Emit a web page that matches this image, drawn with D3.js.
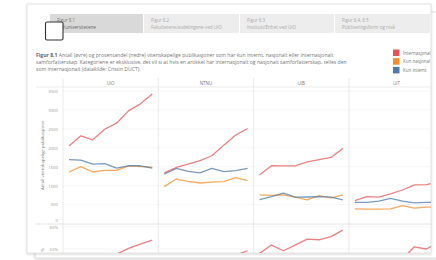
<!DOCTYPE html>
<html>
<head>
<meta charset="utf-8">
<script src="https://cdn.jsdelivr.net/npm/d3@7"></script>
<style>
  html, body { margin: 0; padding: 0; background: #fff; }
  svg { display: block; font-family: "Open Sans", "Noto Sans", sans-serif; }
</style>
</head>
<body>
<div id="chart"></div>
<script>
// data
var years = ["2011", "2012", "2013", "2014", "2015", "2016", "2017", "2018"];
var universities = ["UiO", "NTNU", "UiB", "UiT"];
var seriesNames = ["Internasjonal", "Kun nasjonal", "Kun internt"];
var seriesColors = ["#e15759", "#f28e2b", "#4e79a7"];

// upper panel: number of publications
var internasjonal = {
  UiO:  [2050, 2315, 2210, 2490, 2650, 2975, 3160, 3420],
  NTNU: [1335, 1480, 1570, 1660, 1790, 2070, 2335, 2510],
  UiB:  [1290, 1525, 1520, 1520, 1630, 1685, 1745, 1980],
  UiT:  [605, 710, 695, 780, 885, 1020, 1025, 1100]
};
var kunNasjonal = {
  UiO:  [1360, 1500, 1360, 1405, 1405, 1520, 1500, 1490],
  NTNU: [975, 1175, 1115, 1070, 1095, 1105, 1210, 1130],
  UiB:  [755, 745, 755, 695, 625, 735, 675, 755],
  UiT:  [385, 378, 378, 385, 475, 405, 430, 440]
};
var kunInternt = {
  UiO:  [1685, 1675, 1570, 1580, 1465, 1525, 1525, 1465],
  NTNU: [1305, 1455, 1375, 1335, 1455, 1370, 1395, 1455],
  UiB:  [630, 710, 805, 695, 700, 710, 695, 625],
  UiT:  [560, 560, 590, 665, 590, 545, 560, 560]
};

// lower panel: share in percent
var andelInternasjonal = {
  UiO:  [40.5, 42.5, 43, 45.5, 47.6, 50.3, 52.2, 54],
  NTNU: [37, 36, 38.7, 40.8, 41.2, 45.6, 47.2, 49.2],
  UiB:  [48, 51.8, 49.2, 51.8, 54.5, 54.2, 55.6, 58.6],
  UiT:  [39, 43, 42, 43, 45.5, 51, 50, 53]
};
var andelKunNasjonal = {
  UiO:  [27, 27, 26, 26, 25, 25, 24, 23],
  NTNU: [27, 29, 27, 26, 25, 24, 25, 22],
  UiB:  [28, 25, 25, 24, 21, 23, 22, 22],
  UiT:  [25, 23, 23, 21, 24, 21, 21, 21]
};
var andelKunInternt = {
  UiO:  [33, 31, 31, 29, 27, 25, 24, 23],
  NTNU: [36, 35, 34, 33, 33, 30, 28, 29],
  UiB:  [24, 23, 26, 24, 24, 23, 22, 19],
  UiT:  [36, 34, 36, 36, 30, 28, 28, 26]
};

var yTicks = [0, 500, 1000, 1500, 2000, 2500, 3000, 3500];
var pctTicks = [50, 60];

var tabTitles = ["Figur 8.1", "Figur 8.2", "Figur 8.3", "Figur 8.4, 8.5"];
var tabSubtitles = ["Tid/universitetene", "Fakultetene/avdelingene ved UiO", "Institutt/Enhet ved UiO", "Publiseringsform og nivå"];

var titleLines = [
  "Antall (øvre) og prosentandel (nedre) vitenskapelige publikasjoner som har kun internt, nasjonalt eller internasjonalt",
  "samforfatterskap. Kategoriene er eksklusive, det vil si at hvis en artikkel har internasjonalt og nasjonalt samforfatterskap, telles den",
  "som internasjonalt (datakilde: Cristin DUCT)."
];

var W = 436, H = 260;
var svg = d3.select("#chart").append("svg").attr("width", W).attr("height", H);
var defs = svg.append("defs");

defs.append("filter").attr("id", "shadow")
  .attr("x", "-5%").attr("y", "-5%").attr("width", "110%").attr("height", "110%")
  .append("feDropShadow")
  .attr("dx", 0).attr("dy", 1).attr("stdDeviation", 1.2)
  .attr("flood-color", "#000").attr("flood-opacity", 0.18);

defs.append("clipPath").attr("id", "card-clip")
  .append("rect").attr("x", 27).attr("y", 4).attr("width", 404).attr("height", 249);

// card behind and main card
svg.append("rect").attr("x", 35).attr("y", 12).attr("width", 420).attr("height", 246)
  .attr("fill", "#fff").attr("stroke", "#d8d8d8").attr("stroke-width", 0.8)
  .attr("filter", "url(#shadow)");
svg.append("rect").attr("x", 27).attr("y", 4).attr("width", 404).attr("height", 249)
  .attr("fill", "#fff").attr("stroke", "#dcdcdc").attr("stroke-width", 0.8)
  .attr("filter", "url(#shadow)");

var card = svg.append("g").attr("clip-path", "url(#card-clip)");

// tabs
var tabX = [50, 144, 240, 335, 431];
var tabs = card.selectAll(".tab").data(tabTitles).enter().append("g").attr("class", "tab");
tabs.append("rect")
  .attr("x", function(d, i) { return tabX[i]; })
  .attr("y", 14)
  .attr("width", function(d, i) { return tabX[i + 1] - tabX[i] - 1; })
  .attr("height", 19)
  .attr("fill", function(d, i) { return i === 0 ? "#d9d9d9" : "#ededed"; });
tabs.append("text")
  .attr("x", function(d, i) { return tabX[i] + 7; })
  .attr("y", 21.5)
  .attr("font-size", 4.5)
  .attr("fill", function(d, i) { return i === 0 ? "#777" : "#aaa"; })
  .text(function(d) { return d; });
tabs.append("text")
  .attr("x", function(d, i) { return tabX[i] + 7; })
  .attr("y", 28.7)
  .attr("font-size", 4.6)
  .attr("fill", function(d, i) { return i === 0 ? "#666" : "#aaa"; })
  .text(function(d, i) { return tabSubtitles[i]; });

// the little checkbox over the first tab
svg.append("rect").attr("x", 45.5).attr("y", 22).attr("width", 17.5).attr("height", 18)
  .attr("rx", 1.5).attr("fill", "#fff").attr("stroke", "#333").attr("stroke-width", 1.1);

// title
var title = card.append("g").attr("font-size", 5.1).attr("fill", "#777");
titleLines.forEach(function(line, i) {
  var t = title.append("text").attr("x", 36).attr("y", 57.3 + i * 7);
  if (i === 0) t.append("tspan").attr("font-weight", "bold").attr("fill", "#666").text("Figur 8.1 ");
  t.append("tspan").text(line);
});

// legend
var legend = card.selectAll(".legend").data(seriesNames).enter().append("g")
  .attr("transform", function(d, i) { return "translate(393," + (49.5 + i * 8.7) + ")"; });
legend.append("rect").attr("width", 6.5).attr("height", 6.5)
  .attr("fill", function(d, i) { return seriesColors[i]; });
legend.append("text").attr("x", 10).attr("y", 5).attr("font-size", 4.5).attr("fill", "#777")
  .text(function(d) { return d; });

// scales
var colW = 95.3;
var xCol = d3.scaleBand().domain(universities).range([63, 63 + colW * universities.length]);
var yTop = d3.scaleLinear().domain([0, 3500]).range([223.5, 91]);
var yBottom = d3.scaleLinear().domain([0, 60]).range([359, 227]);

var plotRight = 431;

// header row
card.append("line").attr("x1", 36).attr("x2", plotRight).attr("y1", 87).attr("y2", 87)
  .attr("stroke", "#e4e4e4").attr("stroke-width", 0.7);
card.selectAll(".head").data(universities).enter().append("text")
  .attr("x", function(d) { return xCol(d) + colW / 2; })
  .attr("y", 84.5).attr("text-anchor", "middle").attr("font-size", 4.5).attr("fill", "#777")
  .text(function(d) { return d; });

// gridlines
card.selectAll(".grid").data(yTicks.slice(1)).enter().append("line")
  .attr("x1", 63).attr("x2", plotRight)
  .attr("y1", function(d) { return yTop(d); }).attr("y2", function(d) { return yTop(d); })
  .attr("stroke", "#f1f1f1").attr("stroke-width", 0.7);
card.selectAll(".pgrid").data(pctTicks).enter().append("line")
  .attr("x1", 63).attr("x2", plotRight)
  .attr("y1", function(d) { return yBottom(d); }).attr("y2", function(d) { return yBottom(d); })
  .attr("stroke", "#f1f1f1").attr("stroke-width", 0.7);

// pane separator
card.append("line").attr("x1", 36).attr("x2", plotRight).attr("y1", 224).attr("y2", 224)
  .attr("stroke", "#dcdcdc").attr("stroke-width", 0.8);

// column dividers
card.selectAll(".divider").data(universities).enter().append("line")
  .attr("x1", function(d) { return xCol(d); }).attr("x2", function(d) { return xCol(d); })
  .attr("y1", 78).attr("y2", 253)
  .attr("stroke", "#e4e4e4").attr("stroke-width", 0.8);

// y axes (labels only)
var axisTop = card.append("g").attr("transform", "translate(58,0)")
  .call(d3.axisLeft(yTop).tickValues(yTicks).tickSize(0).tickPadding(0).tickFormat(d3.format("d")));
var axisBottom = card.append("g").attr("transform", "translate(58,0)")
  .call(d3.axisLeft(yBottom).tickValues(pctTicks).tickSize(0).tickPadding(0).tickFormat(function(d) { return d + "%"; }));
[axisTop, axisBottom].forEach(function(a) {
  a.select(".domain").remove();
  a.selectAll("text").attr("font-size", 4.3).attr("fill", "#999").attr("font-family", "Open Sans, sans-serif");
});
// keep the zero label inside the pane
axisTop.selectAll(".tick").filter(function(d) { return d === 0; }).select("text").attr("dy", "-0.5em");

// axis titles
card.append("text").attr("transform", "translate(43.5," + yTop(1800) + ") rotate(-90)")
  .attr("text-anchor", "middle").attr("font-size", 4.3).attr("fill", "#777")
  .text("Antall vitenskapelige publikasjoner");
card.append("text").attr("transform", "translate(43.5,250) rotate(-90)")
  .attr("text-anchor", "middle").attr("font-size", 4.3).attr("fill", "#777")
  .text("%");

// lines
var topSeries = [internasjonal, kunNasjonal, kunInternt];
var bottomSeries = [andelInternasjonal, andelKunNasjonal, andelKunInternt];
var drawOrder = [1, 2, 0];

universities.forEach(function(u) {
  var x = d3.scalePoint().domain(years).range([xCol(u) + 6, xCol(u) + colW - 6]);

  var lineTop = d3.line().x(function(d, i) { return x(years[i]); }).y(function(d) { return yTop(d); });
  var lineBottom = d3.line().x(function(d, i) { return x(years[i]); }).y(function(d) { return yBottom(d); });

  drawOrder.forEach(function(s) {
    card.append("path").datum(topSeries[s][u])
      .attr("d", lineTop).attr("fill", "none")
      .attr("stroke", seriesColors[s]).attr("stroke-width", 1.3).attr("stroke-opacity", 0.75)
      .attr("stroke-linejoin", "round");
    card.append("path").datum(bottomSeries[s][u])
      .attr("d", lineBottom).attr("fill", "none")
      .attr("stroke", seriesColors[s]).attr("stroke-width", 1.3).attr("stroke-opacity", 0.75)
      .attr("stroke-linejoin", "round");
  });
});
</script>
</body>
</html>
